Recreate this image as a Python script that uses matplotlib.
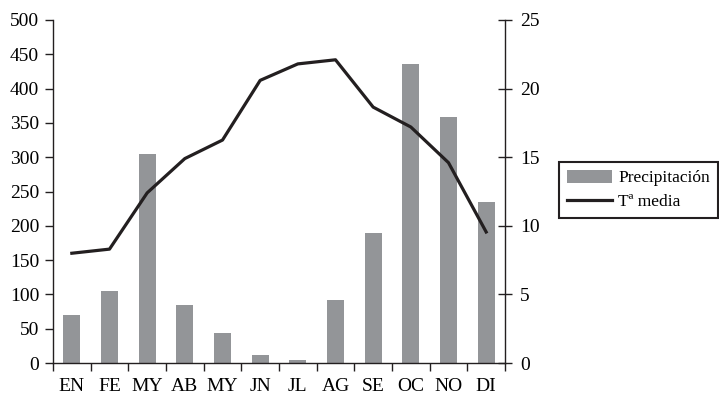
import matplotlib
matplotlib.use('Agg')
import matplotlib.pyplot as plt
import numpy as np

# monthly climate data
months = ['EN', 'FE', 'MY', 'AB', 'MY', 'JN', 'JL', 'AG', 'SE', 'OC', 'NO', 'DI']
precipitacion = [70, 105, 305, 85, 44, 12, 4, 92, 190, 436, 359, 235]
temp_media = [8.0, 8.3, 12.4, 14.9, 16.25, 20.6, 21.8, 22.1, 18.65, 17.2, 14.6, 9.55]

bar_color = '#939598'
line_color = '#231f20'

plt.rcParams['font.family'] = 'Liberation Serif'
plt.rcParams['font.size'] = 14

fig = plt.figure(figsize=(7.19, 3.97), dpi=100)
ax = fig.add_axes([53/719, 1-363/397, 452/719, 343/397])
x = np.arange(len(months))

bars = ax.bar(x, precipitacion, width=0.45, color=bar_color, label='Precipitación', zorder=2)
ax.set_xlim(-0.5, len(months)-0.5)
ax.set_ylim(0, 500)
ax.set_yticks(range(0, 501, 50))

# category labels centred, tick marks between categories
ax.set_xticks(x)
ax.set_xticklabels(months)
ax.tick_params(axis='x', length=0, pad=11)
ax.set_xticks(np.arange(-0.5, len(months)), minor=True)
ax.tick_params(axis='x', which='minor', length=6, width=1, direction='out', color='#231f20')
ax.tick_params(axis='y', length=6, width=1, direction='out', color='#231f20', pad=4)

for s in ['top', 'right']:
    ax.spines[s].set_visible(False)
for s in ['left', 'bottom']:
    ax.spines[s].set_color('#231f20')
    ax.spines[s].set_linewidth(1)

ax2 = ax.twinx()
line, = ax2.plot(x, temp_media, color=line_color, lw=2.3, label='Tª media', zorder=3)
ax2.set_ylim(0, 25)
ax2.set_yticks(range(0, 26, 5))
ax2.tick_params(axis='y', length=10, width=1, direction='inout', color='#231f20', pad=6)
for s in ['top', 'left', 'bottom']:
    ax2.spines[s].set_visible(False)
ax2.spines['right'].set_color('#231f20')
ax2.spines['right'].set_linewidth(1)

leg = fig.legend([bars, line], ['Precipitación', 'Tª media'],
                 loc='upper left', bbox_to_anchor=(559/719, 1-162/397),
                 frameon=True, fancybox=False, framealpha=1, edgecolor='#231f20',
                 handlelength=2.6, handleheight=0.75, handletextpad=0.35,
                 borderpad=0.45, labelspacing=0.45, fontsize=12.5, borderaxespad=0)
leg.get_frame().set_linewidth(1.5)

fig.savefig('out.png', dpi=100)
